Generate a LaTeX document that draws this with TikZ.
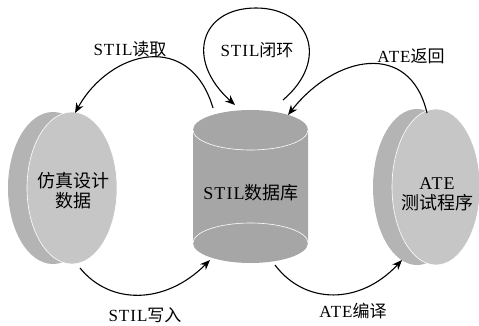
\documentclass[tikz,border=0pt]{standalone}
\usepackage{fontspec}
\setmainfont[LetterSpace=6]{Liberation Serif}
\newfontfamily\cjk{Noto Sans CJK SC}
\usetikzlibrary{arrows.meta,shapes.geometric}
\definecolor{backgrey}{HTML}{B4B4B4}
\definecolor{frontgrey}{HTML}{C6C6C6}
\definecolor{cylgrey}{HTML}{A6A6A6}
\begin{document}
\begin{tikzpicture}[x=1pt,y=1pt,
  disk/.style={ellipse,inner sep=0pt,minimum width=90pt,minimum height=152pt},
  backdisk/.style={disk,fill=backgrey},
  frontdisk/.style={disk,fill=frontgrey,draw=white,line width=0.6pt},
  conn/.style={line width=1.1pt,-{Stealth[length=10pt,width=8pt]}},
  lbl/.style={font=\fontsize{17}{20}\selectfont,inner sep=0pt},
  nodetxt/.style={font=\fontsize{18}{22}\selectfont,align=center,inner sep=0pt}]
\useasboundingbox (0,0) rectangle (479,325);
% left disk
\node[backdisk] (ldb) at (53,137) {};
\node[frontdisk] (ld) at (72,137) {};
\node[nodetxt] (ldt) at (73,134) {{\cjk 仿真设计}\\[-2pt]{\cjk 数据}};
% right disk
\node[backdisk,minimum height=156pt,minimum width=88pt] (rdb) at (417,138) {};
\node[frontdisk,minimum height=156pt,minimum width=88pt] (rd) at (436,138) {};
\node[nodetxt] (rdt) at (437,131) {ATE\\[-2pt]{\cjk 测试程序}};
% cylinder
\fill[cylgrey] (193,195) -- (193,82) arc[start angle=180,end angle=360,x radius=57.5,y radius=20]
  -- (308,195) arc[start angle=0,end angle=180,x radius=57.5,y radius=20] -- cycle;
\draw[white,line width=0.6pt] (193,195) arc[start angle=180,end angle=360,x radius=57.5,y radius=20];
\draw[white,line width=0.6pt] (308,82) arc[start angle=0,end angle=180,x radius=57.5,y radius=20];
\node[draw=none,minimum width=115pt,minimum height=153pt,inner sep=0pt] (db) at (250.5,138.5) {};
\node[nodetxt] (dbt) at (251,132) {STIL{\cjk 数据库}};
% connector end points
\coordinate (dbtl) at (213,217);
\coordinate (dbtr) at (283,225);
\coordinate (dbtm) at (235,220);
\coordinate (dbtr2) at (288,210);
\coordinate (dbbl) at (210,65);
\coordinate (dbbr) at (275,60);
\coordinate (ldtop) at (75,212);
\coordinate (ldbot) at (80,57);
\coordinate (rdtop) at (427,212);
\coordinate (rdbot) at (402,65);
% connectors
\draw[conn] (dbtl) .. controls (190,295) and (110,275) .. (ldtop);
\draw[conn] (dbtr) .. controls (330,265) and (310,317) .. (256,317)
  .. controls (200,317) and (185,265) .. (dbtm);
\draw[conn] (rdtop) .. controls (410,285) and (335,270) .. (dbtr2);
\draw[conn] (ldbot) .. controls (110,20) and (165,20) .. (dbbl);
\draw[conn] (dbbr) .. controls (305,20) and (360,20) .. (rdbot);
% labels
\node[lbl] (l1) at (130,276) {STIL{\cjk 读取}};
\node[lbl] (l2) at (257,275) {STIL{\cjk 闭环}};
\node[lbl] (l3) at (411,269) {ATE{\cjk 返回}};
\node[lbl] (l4) at (145,10) {STIL{\cjk 写入}};
\node[lbl] (l5) at (353,14) {ATE{\cjk 编译}};
\end{tikzpicture}
\end{document}
